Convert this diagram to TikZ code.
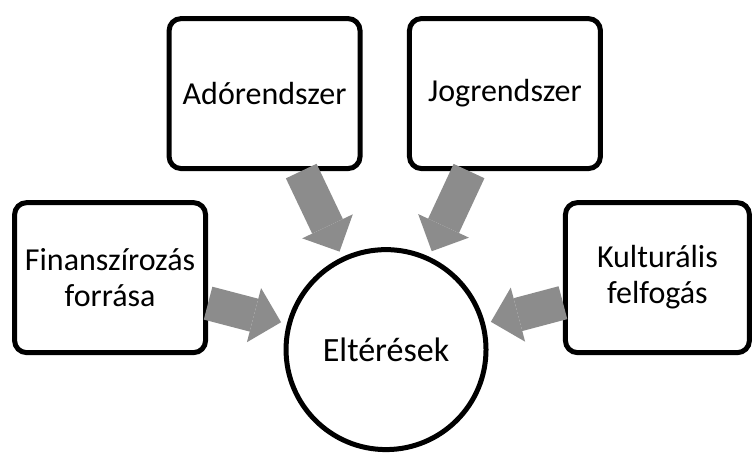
\documentclass[tikz,border=0pt]{standalone}
\usepackage{fontspec}
\setmainfont{Carlito}
\usetikzlibrary{arrows.meta}
\usetikzlibrary{shadows}
\definecolor{arrowgray}{RGB}{140,140,140}

\begin{document}
\begin{tikzpicture}[
        factor/.style={draw, line width=5pt, rounded corners=12pt, fill=white,
            minimum width=191pt, minimum height=150pt, align=center,
            font=\fontsize{32}{36}\selectfont,
            drop shadow={opacity=0.25, shadow xshift=1pt, shadow yshift=-1.5pt}},
        result/.style={draw, circle, line width=5pt, fill=white, minimum size=200pt,
            font=\fontsize{34}{38}\selectfont,
            drop shadow={opacity=0.25, shadow xshift=1pt, shadow yshift=-1.5pt}},
        bigarrow/.style={draw=arrowgray, line width=34pt,
            -{Triangle[width=56pt, length=28pt, line width=0pt]}, shorten >=6pt}]
    \useasboundingbox (0,0) rectangle (26.47,15.89);

    % factors around the result
    \node[factor] (fin) at (3.87,6.13) {Finanszírozás\\forrása};
    \node[factor] (ado) at (9.30,12.60) {Adórendszer};
    \node[factor] (jog) at (17.75,12.60) {Jogrendszer};
    \node[factor, minimum width=184pt] (kul) at (23.11,6.13) {Kulturális\\felfogás};

    \node[result] (elt) at (13.57,3.60) {Eltérések};

    \draw[bigarrow] (fin) -- (elt);
    \draw[bigarrow] (ado) -- (elt);
    \draw[bigarrow] (jog) -- (elt);
    \draw[bigarrow] (kul) -- (elt);
\end{tikzpicture}
\end{document}
